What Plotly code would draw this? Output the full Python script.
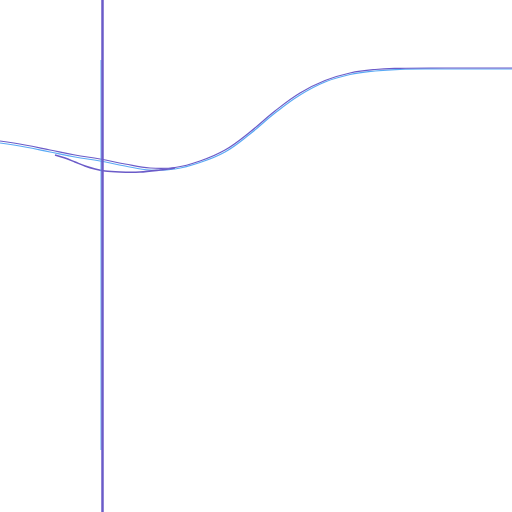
import plotly.graph_objects as go

# Curve 1 (purple)
x_main = [0, 25, 50, 75, 100, 125, 150, 175, 200, 225, 250, 275, 300, 325, 350, 375, 400, 450, 512]
y_main = [141, 145, 150, 155, 159, 164, 168, 167.5, 161, 150, 132, 111, 93, 80.5, 73, 69.5, 68.3, 68, 68]

# Curve 2 (light blue), slightly offset twin of curve 1
x_twin = [0, 25, 50, 75, 100, 125, 150, 175, 200, 225, 250, 275, 300, 325, 350, 375, 400, 450, 512]
y_twin = [143, 147, 152, 157, 161, 166, 170, 169, 162.5, 152, 134, 113, 95, 82, 74.5, 71, 69.3, 69, 69]

# Curve 3 (purple dip)
x_dip = [55, 65, 75, 85, 95, 105, 120, 140, 160, 175]
y_dip = [155, 158, 162, 166, 169, 171, 172, 172, 170, 168]

# Vertical line
x_vert = [102.5, 102.5]
y_vert = [0, 512]
x_vert2 = [101, 101]
y_vert2 = [60, 450]

purple = "#6b5bc8"
blue = "#5aaaf5"

fig = go.Figure()
fig.add_trace(go.Scatter(x=x_twin, y=y_twin, mode="lines", line=dict(color=blue, width=1.2, shape="spline", smoothing=1.2)))
fig.add_trace(go.Scatter(x=x_main, y=y_main, mode="lines", line=dict(color=purple, width=1.2, shape="spline", smoothing=1.2)))
fig.add_trace(go.Scatter(x=x_dip, y=y_dip, mode="lines", line=dict(color=purple, width=1.6, shape="spline")))
fig.add_trace(go.Scatter(x=x_vert2, y=y_vert2, mode="lines", line=dict(color=blue, width=1)))
fig.add_trace(go.Scatter(x=x_vert, y=y_vert, mode="lines", line=dict(color=purple, width=2.5)))

fig.update_layout(
    width=512, height=512,
    margin=dict(l=0, r=0, t=0, b=0),
    paper_bgcolor="white", plot_bgcolor="white",
    showlegend=False,
    xaxis=dict(range=[0, 512], visible=False, fixedrange=True),
    yaxis=dict(range=[512, 0], visible=False, fixedrange=True),
)
fig.write_html("out.html", config={"displayModeBar": False})
